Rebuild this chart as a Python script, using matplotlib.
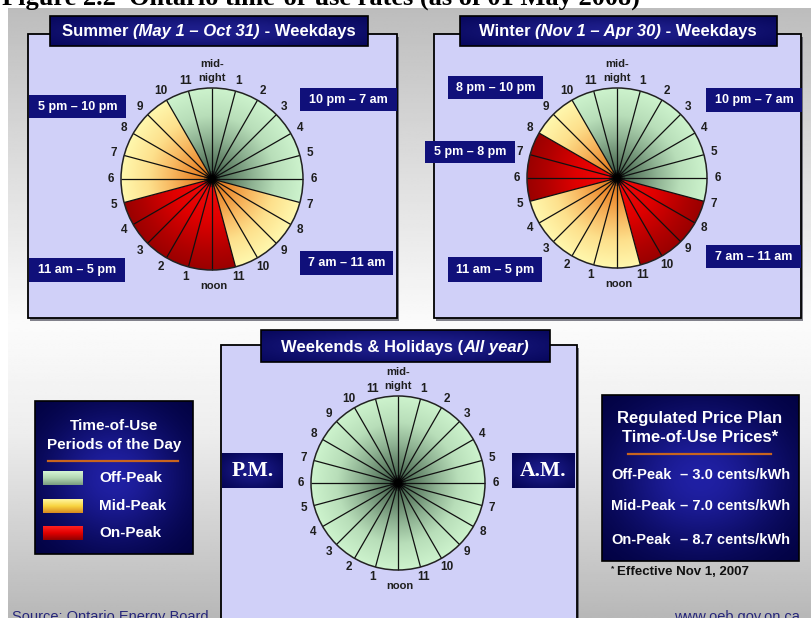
import numpy as np
import matplotlib
matplotlib.use("Agg")
import matplotlib.pyplot as plt
from matplotlib.patches import Wedge, Rectangle, Circle
from matplotlib.colors import LinearSegmentedColormap

# ---------------------------------------------------------------- data
hour_labels = ["mid-\nnight", "1", "2", "3", "4", "5", "6", "7", "8", "9", "10", "11",
               "noon", "1", "2", "3", "4", "5", "6", "7", "8", "9", "10", "11"]

rate_names = ["Off-Peak", "Mid-Peak", "On-Peak"]
rate_prices = [3.0, 7.0, 8.7]

summer_start = [22, 7, 11, 17]
summer_end = [7, 11, 17, 22]
summer_rate = ["Off-Peak", "Mid-Peak", "On-Peak", "Mid-Peak"]
summer_period_text = ["10 pm – 7 am", "7 am – 11 am", "11 am – 5 pm", "5 pm – 10 pm"]

winter_start = [22, 7, 11, 17, 20]
winter_end = [7, 11, 17, 20, 22]
winter_rate = ["Off-Peak", "On-Peak", "Mid-Peak", "On-Peak", "Mid-Peak"]
winter_period_text = ["10 pm – 7 am", "7 am – 11 am", "11 am – 5 pm", "5 pm – 8 pm", "8 pm – 10 pm"]

weekend_start = [0]
weekend_end = [24]
weekend_rate = ["Off-Peak"]

# ---------------------------------------------------------------- styles
FONT = "Liberation Sans"
SERIF = "Liberation Serif"
NAVY = "#10107a"
PANEL = "#d0d0f8"

rate_cmaps = {
    "Off-Peak": LinearSegmentedColormap.from_list(
        "off", [(0, "#1e3022"), (0.08, "#40604a"), (0.2, "#5e7e64"), (0.45, "#8fb393"),
                (0.7, "#b8deb9"), (1, "#cdf3cd")]),
    "Mid-Peak": LinearSegmentedColormap.from_list(
        "mid", [(0, "#904808"), (0.08, "#d87820"), (0.2, "#eb8c30"), (0.45, "#f8b860"),
                (0.7, "#fde08c"), (1, "#fff8ae")]),
    "On-Peak": LinearSegmentedColormap.from_list(
        "on", [(0, "#800000"), (0.1, "#f00a0a"), (0.45, "#e00000"), (0.8, "#b00000"),
               (1, "#9a0000")]),
}
swatch_cmaps = {
    "Off-Peak": LinearSegmentedColormap.from_list("s_off", ["#d4f4d4", "#b2d6b2", "#7a9c80"]),
    "Mid-Peak": LinearSegmentedColormap.from_list("s_mid", ["#fff6a0", "#f8d440", "#d88a20"]),
    "On-Peak": LinearSegmentedColormap.from_list("s_on", ["#ff2020", "#e00000", "#900000"]),
}

W, H = 812, 618
fig = plt.figure(figsize=(W / 100, H / 100), dpi=100)
fig.patch.set_facecolor("white")
ax = fig.add_axes([0, 0, 1, 1])
ax.axis("off")

# slide background: grey at top and bottom, near-white in the middle
gy = np.linspace(0, 1, 300)[:, None]
bg = np.interp(gy, [0, 0.2, 0.52, 0.7, 1.0], [0.74, 0.84, 0.985, 0.93, 0.72])
bg = np.repeat(bg, 2, axis=1)
ax.imshow(bg, cmap="gray", vmin=0, vmax=1, extent=(8, W, H, 8), aspect="auto",
          interpolation="bilinear", zorder=0)

ax.text(2, 4.5, "Figure 2.2  Ontario time-of-use rates (as of 01 May 2008)", family=SERIF,
        fontweight="bold", fontsize=19, va="baseline", ha="left", color="black", zorder=10)


def panel(x0, y0, x1, y1):
    ax.add_patch(Rectangle((x0 + 2.5, y0 + 2.5), x1 - x0, y1 - y0, fc="#303040", ec="none",
                           alpha=0.6, zorder=1))
    ax.add_patch(Rectangle((x0, y0), x1 - x0, y1 - y0, fc=PANEL, ec="black", lw=1.3, zorder=1.1))


def navy_box(x0, y0, x1, y1, ku=1.2, kv=1.6, lo="#000040", hi="#2222a0", border=True, z=4):
    v, u = np.mgrid[-1:1:60j, -1:1:120j]
    g = np.exp(-(u ** 2) * ku - (v ** 2) * kv)
    cmap = LinearSegmentedColormap.from_list("navy", [lo, hi])
    ax.imshow(g, cmap=cmap, vmin=0, vmax=1, extent=(x0, x1, y1, y0), aspect="auto",
              interpolation="bilinear", zorder=z)
    if border:
        ax.add_patch(Rectangle((x0, y0), x1 - x0, y1 - y0, fill=False, ec="black", lw=1.2,
                               zorder=z + 0.1))


def label_box(x0, y0, x1, y1, text):
    ax.add_patch(Rectangle((x0, y0), x1 - x0, y1 - y0, fc=NAVY, ec="none", zorder=4))
    ax.text((x0 + x1) / 2, (y0 + y1) / 2 + 0.5, text, color="white", fontsize=9, family=FONT,
            fontweight="bold", ha="center", va="center", zorder=5)


def mixed_title(xc, ybase, parts, size):
    renderer = fig.canvas.get_renderer()
    objs = []
    for s, style in parts:
        objs.append(ax.text(0, ybase, s, fontsize=size, fontweight="bold", style=style,
                            color="white", family=FONT, ha="left", va="baseline", zorder=6))
    widths = [t.get_window_extent(renderer).width for t in objs]
    x = xc - sum(widths) / 2
    for t, w in zip(objs, widths):
        t.set_x(x)
        x += w


def clock(cx, cy, r, starts, ends, rates):
    yy, xx = np.mgrid[-1:1:401j, -1:1:401j]
    t = np.hypot(xx, yy)
    for s, e, rate in zip(starts, ends, rates):
        a1 = s * 15 - 90
        a2 = e * 15 - 90
        if a2 <= a1:
            a2 += 360
        wedge = Wedge((cx, cy), r, a1, a2, fc="none", ec="none", transform=ax.transData)
        ax.add_patch(wedge)
        im = ax.imshow(t, cmap=rate_cmaps[rate], vmin=0, vmax=1,
                       extent=(cx - r, cx + r, cy + r, cy - r), aspect="auto",
                       interpolation="bilinear", zorder=3)
        im.set_clip_path(wedge)
    lab_kw = dict(fontsize=8.5, fontweight="bold", family=FONT, color="#1e1e1e",
                  ha="center", va="center", zorder=5)
    for i, lab in enumerate(hour_labels):
        a = np.deg2rad(i * 15)
        sx, sy = np.sin(a), -np.cos(a)
        ax.plot([cx, cx + r * sx], [cy, cy + r * sy], color="#111111", lw=0.9, zorder=3.5,
                solid_capstyle="butt")
        if i == 0:
            ax.text(cx, cy - r - 17, lab, linespacing=1.45, **{**lab_kw, "fontsize": 8})
        elif i == 12:
            ax.text(cx + 2, cy + r + 16, lab, **{**lab_kw, "fontsize": 8})
        else:
            lr = r + 10.5
            ax.text(cx + lr * sx, cy + lr * sy, lab, **lab_kw)
    ax.add_patch(Circle((cx, cy), r, fill=False, ec="#222222", lw=1.1, zorder=3.6))
    ax.add_patch(Circle((cx, cy), 8, fc="black", ec="none", alpha=0.25, zorder=3.7))
    ax.add_patch(Circle((cx, cy), 5.5, fc="black", ec="none", alpha=0.6, zorder=3.7))
    ax.add_patch(Circle((cx, cy), 4, fc="black", ec="none", zorder=3.8))


# ---------------------------------------------------------------- summer
panel(28, 34, 397, 318)
navy_box(50, 16, 368, 46, ku=0.8, kv=0.6, lo="#00004c", hi="#1e1e8c")
mixed_title(209, 36, [("Summer ", "normal"), ("(May 1 – Oct 31)", "italic"),
                      (" - Weekdays", "normal")], 12)
clock(212, 179, 91, summer_start, summer_end, summer_rate)
summer_boxes = [(300, 88, 397, 111), (300, 251, 393, 275), (29, 258, 125, 282), (29, 95, 126, 118)]
for (x0, y0, x1, y1), txt in zip(summer_boxes, summer_period_text):
    label_box(x0, y0, x1, y1, txt)

# ---------------------------------------------------------------- winter
panel(434, 34, 801, 318)
navy_box(460, 16, 777, 46, ku=0.8, kv=0.6, lo="#00004c", hi="#1e1e8c")
mixed_title(618, 36, [("Winter ", "normal"), ("(Nov 1 – Apr 30)", "italic"),
                      (" - Weekdays", "normal")], 12)
clock(617, 178, 90, winter_start, winter_end, winter_rate)
winter_boxes = [(706, 88, 802, 112), (706, 245, 801, 268), (448, 257, 542, 282),
                (425, 141, 515, 163), (448, 76, 543, 99)]
for (x0, y0, x1, y1), txt in zip(winter_boxes, winter_period_text):
    label_box(x0, y0, x1, y1, txt)

# ---------------------------------------------------------------- weekends
panel(221, 345, 577, 640)
navy_box(261, 330, 550, 362, ku=0.8, kv=0.6, lo="#00004c", hi="#1e1e8c")
mixed_title(405, 352, [("Weekends & Holidays (", "normal"), ("All year)", "italic")], 12)
clock(398, 483, 87, weekend_start, weekend_end, weekend_rate)
for (x0, x1), txt in zip([(222, 283), (512, 575)], ["P.M.", "A.M."]):
    navy_box(x0, 453, x1, 488, ku=0.8, kv=0.8, lo="#000048", hi="#1a1a88", border=False)
    ax.text((x0 + x1) / 2, 471, txt, color="white", fontsize=15.5, family=SERIF,
            fontweight="bold", ha="center", va="center", zorder=6)

# ---------------------------------------------------------------- legend
navy_box(35, 401, 193, 554, ku=1.3, kv=1.3, lo="#00003c", hi="#2020a4")
ax.text(114, 426, "Time-of-Use", color="white", fontsize=11, family=FONT, fontweight="bold",
        ha="center", va="center", zorder=6)
ax.text(114, 445, "Periods of the Day", color="white", fontsize=11, family=FONT,
        fontweight="bold", ha="center", va="center", zorder=6)
ax.plot([48, 178], [461, 461], color="#c8641e", lw=1.6, zorder=6)
for name, yc in zip(rate_names, [478, 506, 533]):
    sw = np.linspace(0, 1, 40)[:, None] * np.ones((1, 4))
    ax.imshow(sw, cmap=swatch_cmaps[name], vmin=0, vmax=1, extent=(43, 83, yc + 7, yc - 7),
              aspect="auto", interpolation="bilinear", zorder=6)
    ax.text(99, yc, name, color="white", fontsize=11, family=FONT, fontweight="bold",
            ha="left", va="center", zorder=6)

# ---------------------------------------------------------------- prices
navy_box(602, 395, 799, 561, ku=1.3, kv=1.3, lo="#00003c", hi="#2020a4")
ax.text(700, 419, "Regulated Price Plan", color="white", fontsize=12, family=FONT,
        fontweight="bold", ha="center", va="center", zorder=6)
ax.text(700, 438, "Time-of-Use Prices*", color="white", fontsize=12, family=FONT,
        fontweight="bold", ha="center", va="center", zorder=6)
ax.plot([628, 771], [454, 454], color="#c8641e", lw=1.6, zorder=6)
for name, price, yc in zip(rate_names, rate_prices, [475, 506, 540]):
    ax.text(611, yc, name, color="white", fontsize=10.5, family=FONT, fontweight="bold",
            ha="left", va="center", zorder=6)
    ax.text(790, yc, f"– {price:.1f} cents/kWh", color="white", fontsize=10.5, family=FONT,
            fontweight="bold", ha="right", va="center", zorder=6)
ax.text(611, 569, "*", color="#111111", fontsize=6, family=FONT, fontweight="bold",
        ha="left", va="center", zorder=6)
ax.text(617, 572, "Effective Nov 1, 2007", color="#111111", fontsize=9.5, family=FONT,
        fontweight="bold", ha="left", va="center", zorder=6)

# ---------------------------------------------------------------- footer
ax.text(12, 621, "Source: Ontario Energy Board", color="#26267a", fontsize=10.5, family=FONT,
        ha="left", va="baseline", zorder=6)
ax.text(800, 621, "www.oeb.gov.on.ca", color="#26267a", fontsize=10.5, family=FONT,
        ha="right", va="baseline", zorder=6)

ax.set_xlim(0, W)
ax.set_ylim(H, 0)
fig.savefig("out.png", dpi=100, facecolor="white")
